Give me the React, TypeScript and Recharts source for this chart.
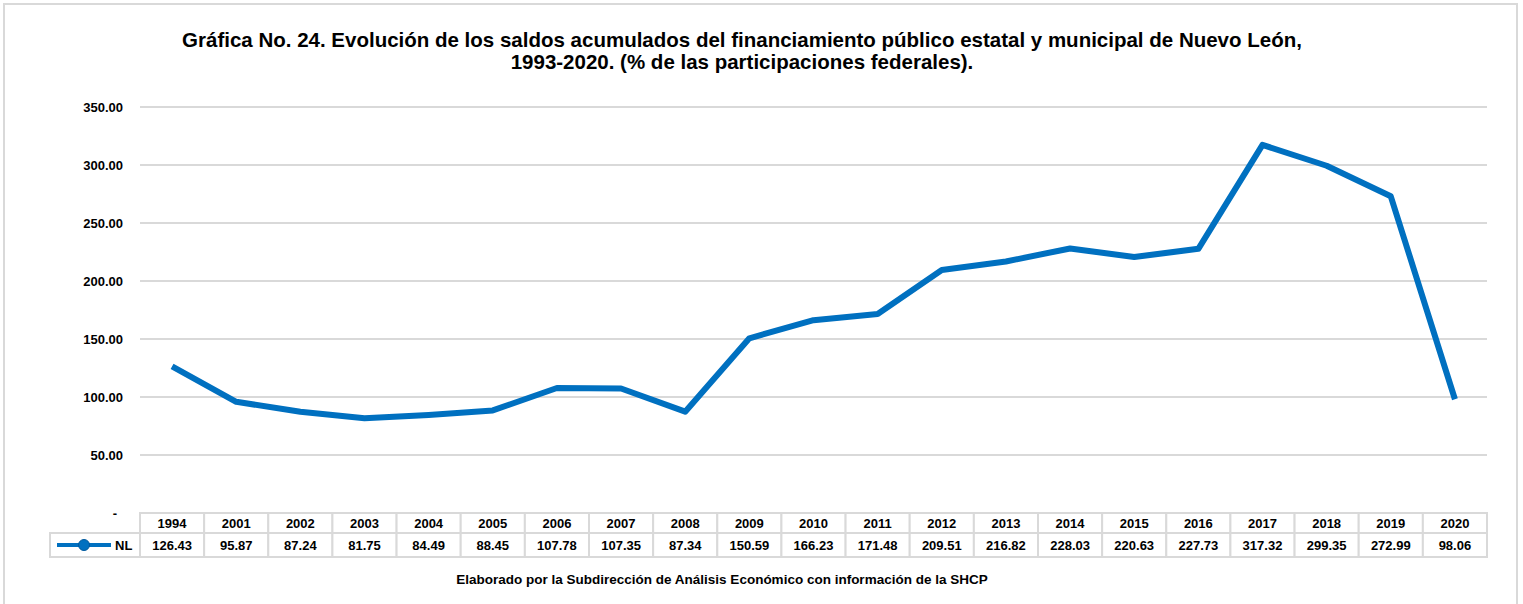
import React from 'react';
import { LineChart, Line, XAxis, YAxis, CartesianGrid } from 'recharts';

const years = ['1994','2001','2002','2003','2004','2005','2006','2007','2008','2009','2010','2011','2012','2013','2014','2015','2016','2017','2018','2019','2020'];
const nlValues = [126.43,95.87,87.24,81.75,84.49,88.45,107.78,107.35,87.34,150.59,166.23,171.48,209.51,216.82,228.03,220.63,227.73,317.32,299.35,272.99,98.06];
const yTicks = [0,50,100,150,200,250,300,350];
const seriesName = 'NL';
const titleLine1 = 'Gráfica No. 24. Evolución de los saldos acumulados del financiamiento público estatal y municipal de Nuevo León,';
const titleLine2 = '1993-2020. (% de las participaciones federales).';
const footer = 'Elaborado por la Subdirección de Análisis Económico con información de la SHCP';

const data = years.map((y, i) => ({ year: y, NL: nlValues[i] }));

const W = 1523;
const H = 604;
const PLOT_LEFT = 140;
const PLOT_RIGHT_MARGIN = 36;
const PLOT_TOP = 107;
const PLOT_BOTTOM = 513;
const BLUE = '#0070C0';
const GRID = '#D9D9D9';
const FONT = '"Liberation Sans", Arial, sans-serif';
const CELL_W = (W - PLOT_LEFT - PLOT_RIGHT_MARGIN) / years.length;
const ROW1 = 20;
const ROW2 = 24;

const YTick = (props: any) => {
  const { x, y, payload } = props;
  const v = payload.value as number;
  const label = v === 0 ? '-' : v.toFixed(2);
  return (
    <text x={v === 0 ? x - 6 : x} y={y} dy="0.35em" textAnchor="end" fontFamily={FONT} fontWeight="bold" fontSize={13} fill="#000">
      {label}
    </text>
  );
};

const XTick = (props: any) => {
  const { x, y, payload, index } = props;
  const val = nlValues[index];
  const left = x - CELL_W / 2;
  return (
    <g>
      <rect x={left} y={y} width={CELL_W} height={ROW1} fill="#fff" stroke={GRID} strokeWidth={2} />
      <rect x={left} y={y + ROW1} width={CELL_W} height={ROW2} fill="#fff" stroke={GRID} strokeWidth={2} />
      <text x={x} y={y + ROW1 / 2} dy="0.35em" textAnchor="middle" fontFamily={FONT} fontWeight="bold" fontSize={13} fill="#000">
        {payload.value}
      </text>
      <text x={x} y={y + ROW1 + ROW2 / 2} dy="0.35em" textAnchor="middle" fontFamily={FONT} fontWeight="bold" fontSize={13} fill="#000">
        {val != null ? val.toFixed(2) : ''}
      </text>
    </g>
  );
};

export default function App() {
  return (
    <div style={{ position: 'absolute', left: 0, top: 0, width: W, height: H, overflow: 'hidden', background: '#fff' }}>
      <div style={{ position: 'absolute', left: 3, top: 3, width: 1515, height: 700, border: `2px solid ${GRID}`, boxSizing: 'border-box' }} />
      <div style={{ position: 'absolute', left: 0, top: 29, width: 1484, textAlign: 'center', fontFamily: FONT, fontWeight: 'bold', fontSize: 20.5, lineHeight: '22px', color: '#000' }}>
        <div>{titleLine1}</div>
        <div>{titleLine2}</div>
      </div>
      <div style={{ position: 'absolute', left: 0, top: 572, width: 1444, textAlign: 'center', fontFamily: FONT, fontWeight: 'bold', fontSize: 13.5, lineHeight: '16px', color: '#000' }}>
        {footer}
      </div>
      <div style={{ position: 'absolute', left: 0, top: 0 }}>
        <LineChart width={W} height={H} data={data} margin={{ top: PLOT_TOP, right: PLOT_RIGHT_MARGIN, bottom: H - PLOT_BOTTOM - 44, left: 0 }}>
          <CartesianGrid vertical={false} stroke={GRID} strokeWidth={2} />
          <XAxis dataKey="year" height={44} axisLine={false} tickLine={false} tickSize={0} tickMargin={0} interval={0}
            padding={{ left: CELL_W / 2, right: CELL_W / 2 }} tick={<XTick />} />
          <YAxis width={PLOT_LEFT} domain={[0, 350]} ticks={yTicks} axisLine={false} tickLine={false} tickMargin={11} tick={<YTick />} interval={0} />
          <Line type="linear" dataKey="NL" stroke={BLUE} strokeWidth={6} dot={false} isAnimationActive={false} strokeLinejoin="round" />
        </LineChart>
      </div>
      <svg style={{ position: 'absolute', left: 0, top: 0 }} width={W} height={H}>
        <rect x={50} y={PLOT_BOTTOM + ROW1} width={PLOT_LEFT - 50} height={ROW2} fill="none" stroke={GRID} strokeWidth={2} />
        <line x1={57} x2={111} y1={PLOT_BOTTOM + ROW1 + ROW2 / 2} y2={PLOT_BOTTOM + ROW1 + ROW2 / 2} stroke={BLUE} strokeWidth={4} />
        <circle cx={84} cy={PLOT_BOTTOM + ROW1 + ROW2 / 2} r={5.5} fill={BLUE} stroke="#005A9E" strokeWidth={1} />
        <text x={115} y={PLOT_BOTTOM + ROW1 + ROW2 / 2} dy="0.35em" fontFamily={FONT} fontWeight="bold" fontSize={13} fill="#000">{seriesName}</text>
      </svg>
    </div>
  );
}
